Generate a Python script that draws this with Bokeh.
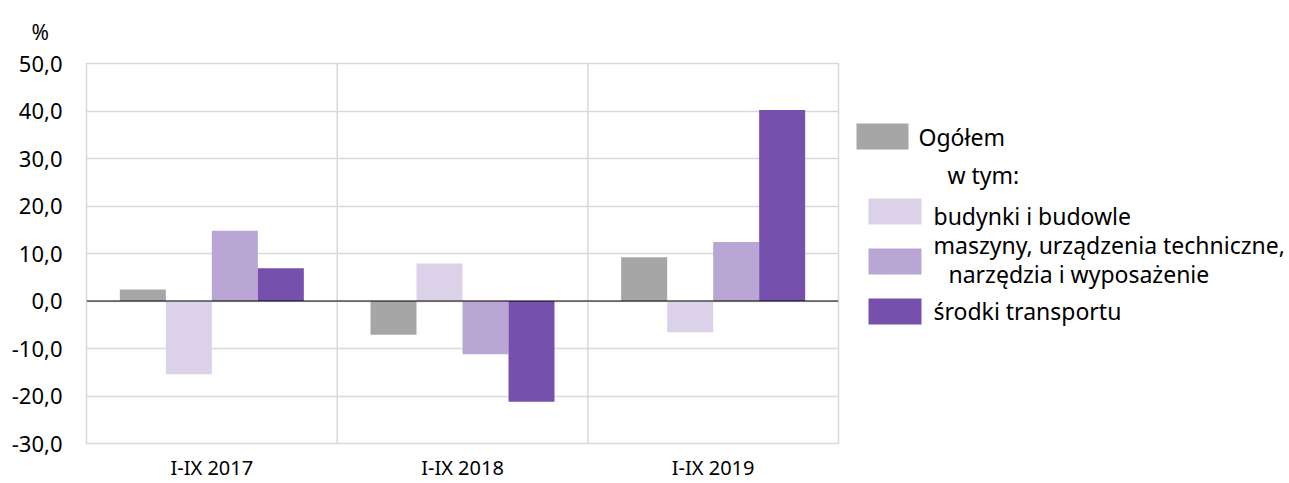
from bokeh.plotting import figure
from bokeh.models import (ColumnDataSource, FactorRange, Range1d, Span, Title,
                          CustomJSTickFormatter, FixedTicker)
from bokeh.transform import dodge
from bokeh.layouts import row
from bokeh.core.properties import value
from bokeh.embed import file_html
from bokeh.resources import INLINE

# ---- data ----
categories = ["I-IX 2017", "I-IX 2018", "I-IX 2019"]
ogolem = [2.4, -7.1, 9.2]
budynki = [-15.4, 7.9, -6.6]
maszyny = [14.8, -11.2, 12.4]
srodki = [6.9, -21.2, 40.2]
series_names = ["Ogółem", "budynki i budowle",
                "maszyny, urządzenia techniczne,", "narzędzia i wyposażenie",
                "środki transportu"]
subhead = "w tym:"
y_ticks = [-30, -20, -10, 0, 10, 20, 30, 40, 50]
unit = "%"

colors = ["#a6a6a6", "#dbd2ea", "#b9a6d5", "#7551ad"]
FONT = "Noto Sans"

src = ColumnDataSource(dict(cat=categories, ogolem=ogolem, budynki=budynki,
                            maszyny=maszyny, srodki=srodki))

p = figure(width=848, height=483, x_range=FactorRange(*categories, range_padding=0),
           y_range=Range1d(-30, 50), output_backend="svg", toolbar_location=None,
           min_border_left=86, min_border_right=10, min_border_top=63,
           min_border_bottom=40)

bw = 0.1835
offs = [-1.5 * bw, -0.5 * bw, 0.5 * bw, 1.5 * bw]
for col, off, c in zip(["ogolem", "budynki", "maszyny", "srodki"], offs, colors):
    p.vbar(x=dodge("cat", off, range=p.x_range), top=col, bottom=0, width=bw,
           source=src, fill_color=c, line_color=None)

p.outline_line_color = "#d9d9d9"
p.outline_line_width = 1.5
p.xgrid.grid_line_color = None
p.ygrid.grid_line_color = "#d9d9d9"
p.ygrid.grid_line_width = 1.5
p.yaxis.ticker = FixedTicker(ticks=y_ticks)
p.yaxis.formatter = CustomJSTickFormatter(code="return tick.toFixed(1).replace('.', ',');")

for i in range(1, len(categories)):
    p.add_layout(Span(location=i, dimension="height", line_color="#d9d9d9", line_width=1.5))
p.add_layout(Span(location=0, dimension="width", line_color="#000000", line_width=1.2))

for ax in (p.xaxis, p.yaxis):
    ax.axis_line_color = None
    ax.major_tick_line_color = None
    ax.minor_tick_line_color = None
    ax.major_tick_out = 0
    ax.major_tick_in = 0
    ax.minor_tick_out = 0
    ax.minor_tick_in = 0
    ax.major_label_text_font = FONT
    ax.major_label_text_color = "#000000"
p.yaxis.major_label_text_font_size = "22px"
p.xaxis.major_label_text_font_size = "20px"
p.yaxis.major_label_standoff = 24
p.xaxis.major_label_standoff = 10

p.add_layout(Title(text=unit, align="left", vertical_align="top", offset=-55, standoff=31,
                   text_font=FONT, text_font_size="21px", text_font_style="normal",
                   text_color="#000000"), "above")

# ---- legend panel (coordinates = page pixels, frame aligned with the chart frame) ----
lg = figure(width=441, height=483, x_range=Range1d(848, 1289), y_range=Range1d(443, 63),
            output_backend="svg", toolbar_location=None, min_border=0)
lg.axis.visible = False
lg.grid.visible = False
lg.outline_line_color = None

sw_left = [856, 868, 868, 868]
sw_right = [908, 921, 921, 921]
sw_top = [123, 198, 248, 298]
lg.quad(left=sw_left, right=sw_right, top=sw_top, bottom=[t + 26 for t in sw_top],
        fill_color=colors, line_color=None)

tx = [918, 947, 933, 933, 948, 933]
ty = [136, 174, 215, 244, 273, 310]
txt = [series_names[0], subhead, series_names[1], series_names[2], series_names[3], series_names[4]]
lg.text(x=tx, y=ty, text=txt, text_font=value(FONT), text_font_size="23px",
        text_baseline="middle", text_align="left", text_color="#000000")

layout = row(p, lg, spacing=0)
open("out.html", "w").write(file_html(layout, INLINE))
